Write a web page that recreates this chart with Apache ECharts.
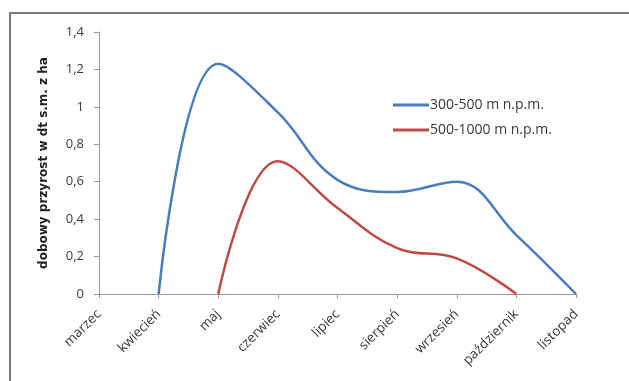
<!DOCTYPE html>
<html>
<head>
<meta charset="utf-8">
<script src="https://cdn.jsdelivr.net/npm/echarts@6/dist/echarts.min.js"></script>
<style>
  html, body { margin: 0; padding: 0; background: #ffffff; }
  #chart { width: 629px; height: 381px; }
</style>
</head>
<body>
<div id="chart"></div>
<script>
// Months of the growing season
const months = ['marzec', 'kwiecień', 'maj', 'czerwiec', 'lipiec', 'sierpień', 'wrzesień', 'październik', 'listopad'];
// Daily growth, dt dry matter per ha
const low = [null, 0, 1.23, 0.97, 0.61, 0.545, 0.60, 0.315, 0];
const high = [null, null, 0, 0.71, 0.46, 0.245, 0.19, 0, null];
const seriesNames = ['300-500 m n.p.m.', '500-1000 m n.p.m.'];
const yTicks = [0, 0.2, 0.4, 0.6, 0.8, 1, 1.2, 1.4];

const fontFamily = '"Open Sans", "Noto Sans", sans-serif';
const axisColor = '#a09898';
const textColor = '#3a3a3a';

const chart = echarts.init(document.getElementById('chart'));
chart.setOption({
  animation: false,
  backgroundColor: '#ffffff',
  graphic: [{
    type: 'rect',
    shape: { x: 10, y: 13, width: 640, height: 400 },
    style: { fill: 'none', stroke: '#7a7a7a', lineWidth: 2 },
    silent: true
  }],
  grid: { left: 99, top: 32, right: 53, bottom: 87, containLabel: false },
  legend: {
    orient: 'vertical',
    left: 388,
    top: 93,
    itemGap: 11,
    itemWidth: 36,
    itemHeight: 3,
    icon: 'rect',
    textStyle: { fontFamily, fontSize: 14, color: textColor, padding: [0, 0, 0, -4] },
    data: seriesNames
  },
  xAxis: {
    type: 'category',
    data: months,
    boundaryGap: false,
    axisLine: { lineStyle: { color: axisColor, width: 1 } },
    axisTick: { alignWithLabel: true, length: 4, lineStyle: { color: axisColor } },
    axisLabel: {
      rotate: 45,
      interval: 0,
      margin: 18,
      fontFamily,
      fontSize: 13.5,
      color: textColor
    },
    splitLine: { show: false }
  },
  yAxis: {
    type: 'value',
    min: 0,
    max: yTicks[yTicks.length - 1],
    interval: 0.2,
    name: 'dobowy przyrost w dt s.m. z ha',
    nameLocation: 'middle',
    nameGap: 49,
    nameRotate: 90,
    nameTextStyle: { fontFamily: '"DejaVu Sans", sans-serif', fontSize: 12, fontWeight: 'bold', color: '#222' },
    axisLine: { show: true, lineStyle: { color: axisColor, width: 1 } },
    axisTick: { show: true, length: 5, inside: false, lineStyle: { color: axisColor } },
    axisLabel: {
      fontFamily,
      fontSize: 13,
      color: textColor,
      margin: 15,
      formatter: v => String(Math.round(v * 10) / 10).replace('.', ',')
    },
    splitLine: { show: false }
  },
  series: [
    {
      name: seriesNames[0],
      type: 'line',
      data: low,
      smooth: 0.4,
      showSymbol: false,
      symbol: 'none',
      lineStyle: { color: '#4a7ebb', width: 2.5 },
      itemStyle: { color: '#4a7ebb' }
    },
    {
      name: seriesNames[1],
      type: 'line',
      data: high,
      smooth: 0.4,
      showSymbol: false,
      symbol: 'none',
      lineStyle: { color: '#be4b48', width: 2.5 },
      itemStyle: { color: '#be4b48' }
    }
  ]
});
</script>
</body>
</html>
